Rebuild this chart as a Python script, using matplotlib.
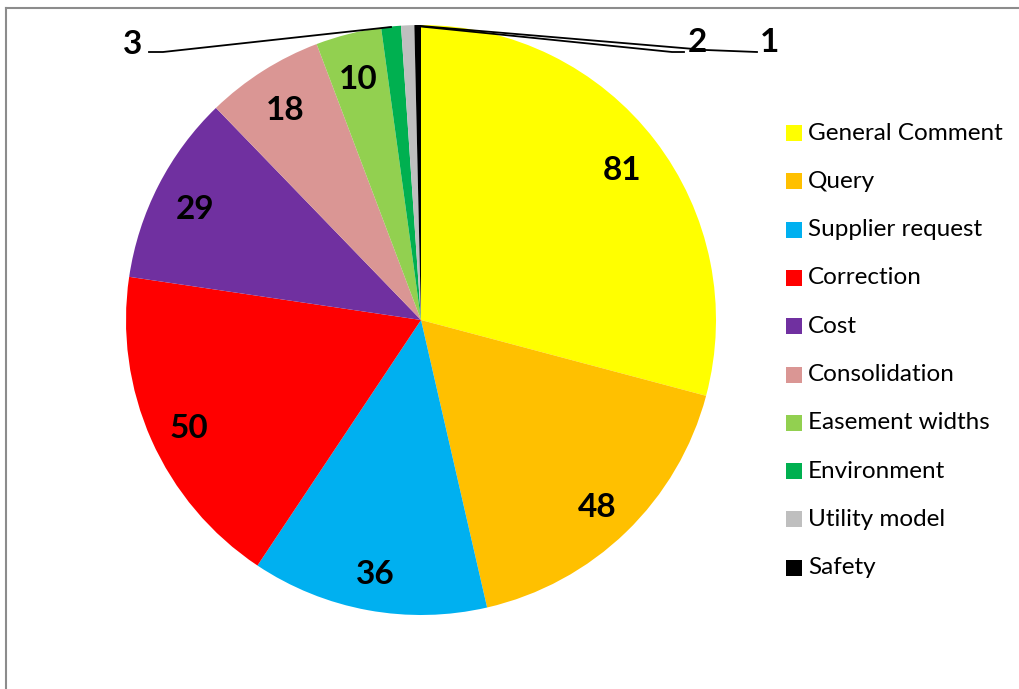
import matplotlib
matplotlib.use("Agg")
import matplotlib.pyplot as plt
from matplotlib.patches import Rectangle
from matplotlib.lines import Line2D

categories = ["General Comment", "Query", "Supplier request", "Correction", "Cost",
              "Consolidation", "Easement widths", "Environment", "Utility model", "Safety"]
values = [81, 48, 36, 50, 29, 18, 10, 3, 2, 1]
colors = ["#FFFF00", "#FFC000", "#00B0F0", "#FF0000", "#7030A0",
          "#DA9694", "#92D050", "#00B050", "#BFBFBF", "#000000"]

W, H = 1019, 689
fig = plt.figure(figsize=(W / 100, H / 100), dpi=100)
ax = fig.add_axes([0, 0, 1, 1])

cx, cy, R = 421, H - 320, 295
font = ["Lato", "DejaVu Sans"]

inside = [v >= 10 for v in values]
wedges, _, autotexts = ax.pie(
    values, colors=colors, startangle=90, counterclock=False,
    center=(cx, cy), radius=R, frame=True,
    autopct=lambda p: "", pctdistance=0.86,
    wedgeprops=dict(linewidth=0))
ax.set_xlim(0, W)
ax.set_ylim(0, H)
ax.axis("off")

for t, v, ins in zip(autotexts, values, inside):
    if ins:
        x, y = t.get_position()
        t.set_position((x, y - 5))
        t.set_text(str(v))
        t.set_fontsize(24)
        t.set_fontweight("bold")
        t.set_family(font)
        t.set_color("black")

# outside labels with leader lines (pixel coordinates, y from top)
outside = {
    7: dict(text=(133, 44), path=[(149, 52), (163, 52), (391, 27)]),
    8: dict(text=(697, 42), path=[(684, 52), (672, 52), (416, 26)]),
    9: dict(text=(770, 42), path=[(757, 52), (706, 50), (421, 26)]),
}
for i, spec in outside.items():
    tx, ty = spec["text"]
    ax.text(tx, H - ty, str(values[i]), ha="center", va="center",
            fontsize=24, fontweight="bold", family=font, color="black")
    xs = [p[0] for p in spec["path"]]
    ys = [H - p[1] for p in spec["path"]]
    ax.add_line(Line2D(xs, ys, color="black", lw=1.3))

# legend
y0, dy = 133, 48.3
for i, (cat, col) in enumerate(zip(categories, colors)):
    yc = H - (y0 + i * dy)
    ax.add_patch(Rectangle((786, yc - 8), 16, 16, facecolor=col, edgecolor="none"))
    ax.text(808, yc, cat, ha="left", va="center", fontsize=17.5, family=font, color="black")

# frame border lines
ax.add_line(Line2D([6, W], [H - 8, H - 8], color="#8c8c8c", lw=1.5))
ax.add_line(Line2D([6, 6], [H - 8, 0], color="#8c8c8c", lw=1.5))

fig.savefig("out.png", dpi=100)
